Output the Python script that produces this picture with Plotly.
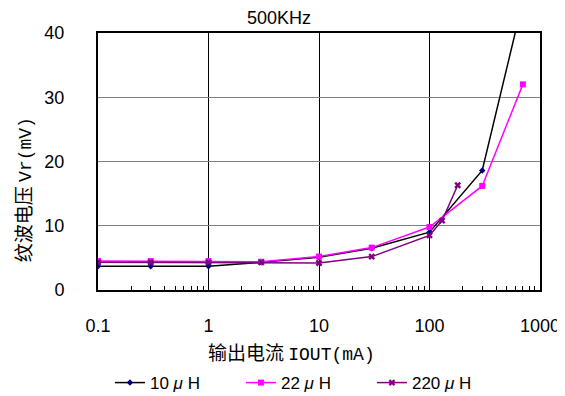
import plotly.graph_objects as go

x_10 = [0.1, 0.3, 1, 3, 10, 30, 100, 300, 700]
y_10 = [3.7, 3.7, 3.7, 4.3, 5.1, 6.5, 9.0, 18.6, 45.0]

x_22 = [0.1, 0.3, 1, 3, 10, 30, 100, 300, 700]
y_22 = [4.5, 4.5, 4.5, 4.4, 5.2, 6.6, 9.8, 16.2, 32.0]

x_220 = [0.1, 0.3, 1, 3, 10, 30, 100, 130, 180]
y_220 = [4.3, 4.3, 4.3, 4.3, 4.2, 5.2, 8.5, 10.8, 16.3]

names = ["10 <i>μ</i> H", "22 <i>μ</i> H", "220 <i>μ</i> H"]
x_ticks = [0.1, 1, 10, 100, 1000]
x_ticktext = ["0.1", "1", "10", "100", "1000"]
y_ticks = [0, 10, 20, 30, 40]

minor_vals = [m * d for d in [0.1, 1, 10, 100] for m in range(2, 10)]

fig = go.Figure()
fig.add_trace(go.Scatter(x=x_10, y=y_10, name=names[0], mode="lines+markers",
                         line=dict(color="black", width=1.5),
                         marker=dict(symbol="diamond", size=5, color="#000080")))
fig.add_trace(go.Scatter(x=x_22, y=y_22, name=names[1], mode="lines+markers",
                         line=dict(color="#FF00FF", width=1.5),
                         marker=dict(symbol="square", size=6, color="#FF00FF")))
fig.add_trace(go.Scatter(x=x_220, y=y_220, name=names[2], mode="lines+markers",
                         line=dict(color="#800080", width=1.5),
                         marker=dict(symbol="x", size=6, color="#800080")))

font_num = "Arial"
font_cjk = "Noto Sans CJK JP"
mono = "<span style='font-family:Liberation Mono;font-size:18px'>"

# page body has an 8px default margin; size the figure to fit the window
fig.update_layout(
    width=557, height=388,
    margin=dict(l=90, r=25, t=25, b=106, autoexpand=False),
    paper_bgcolor="white", plot_bgcolor="white",
    showlegend=True,
    legend=dict(orientation="h", x=0.027, y=-0.362, xanchor="left", yanchor="middle",
                font=dict(family=font_num, size=17, color="black"),
                entrywidth=86, entrywidthmode="pixels", tracegroupgap=0),
    annotations=[
        dict(text="500KHz", x=0.41, y=1.058, xref="paper", yref="paper",
             xanchor="center", yanchor="middle",
             showarrow=False, font=dict(family=font_num, size=18, color="black")),
        dict(text="输出电流\u00a0" + mono + "IOUT(mA)</span>", x=0.438, y=-0.24,
             xref="paper", yref="paper", xanchor="center", yanchor="middle",
             showarrow=False, font=dict(family=font_cjk, size=19, color="black")),
        dict(text="纹波电压\u00a0" + mono + "Vr(mV)</span>", x=-0.171, y=0.39,
             xref="paper", yref="paper", xanchor="center", yanchor="middle",
             showarrow=False, textangle=-90, font=dict(family=font_cjk, size=19, color="black")),
    ],
)

fig.update_xaxes(type="log", range=[-1, 3], tickvals=x_ticks, ticktext=x_ticktext,
                 automargin=False,
                 showgrid=True, gridcolor="black", gridwidth=1,
                 showline=True, linecolor="black", linewidth=2, mirror=True,
                 ticks="inside", ticklen=6, tickcolor="black",
                 ticklabelstandoff=18,
                 tickfont=dict(family=font_num, size=18, color="black"),
                 minor=dict(tickvals=minor_vals, ticks="inside", ticklen=4,
                            tickcolor="black", showgrid=False),
                 zeroline=False)
fig.update_yaxes(range=[0, 40], tickvals=y_ticks, automargin=False,
                 showgrid=True, gridcolor="#808080", gridwidth=1,
                 showline=True, linecolor="black", linewidth=2, mirror=True,
                 ticks="inside", ticklen=8, tickcolor="#808080",
                 ticklabelstandoff=28,
                 tickfont=dict(family=font_num, size=18, color="black"),
                 zeroline=False)

fig.write_html("out.html")
